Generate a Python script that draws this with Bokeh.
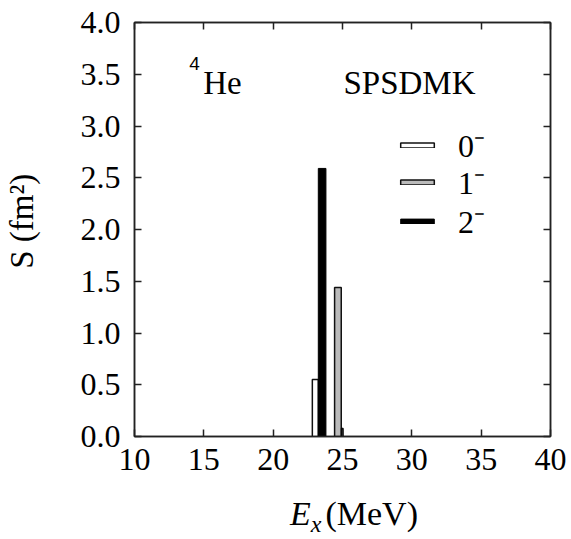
from bokeh.plotting import figure
from bokeh.models import (ColumnDataSource, FixedTicker, PrintfTickFormatter, LinearAxis,
                          Label, Legend, LegendItem, Div)
from bokeh.layouts import column
from bokeh.embed import file_html
from bokeh.resources import INLINE

# ---- data ----
e0 = [23.04]
s0 = [0.55]
w0 = [0.43]

e1 = [24.67]
s1 = [1.44]
w1 = [0.48]

e2 = [23.53, 24.98]
s2 = [2.59, 0.08]
w2 = [0.55, 0.14]

x_ticks = [10, 15, 20, 25, 30, 35, 40]
y_ticks = [0.0, 0.5, 1.0, 1.5, 2.0, 2.5, 3.0, 3.5, 4.0]
legend_labels = ["0\u207b", "1\u207b", "2\u207b"]

FONT = "Liberation Serif"
FS = "32px"

p = figure(width=571, height=490, x_range=(10, 40), y_range=(0, 4),
           output_backend="svg", toolbar_location=None,
           min_border_left=133, min_border_right=21, min_border_top=22, min_border_bottom=54)
p.background_fill_color = "white"
p.border_fill_color = "white"
p.grid.visible = False
p.outline_line_color = "#222222"
p.outline_line_width = 1.5

src0 = ColumnDataSource(dict(x=e0, top=s0, w=w0))
src1 = ColumnDataSource(dict(x=e1, top=s1, w=w1))
src2 = ColumnDataSource(dict(x=e2, top=s2, w=w2))

r0 = p.vbar(x="x", top="top", width="w", bottom=0, source=src0,
            fill_color="white", line_color="#111111", line_width=1.5)
r1 = p.vbar(x="x", top="top", width="w", bottom=0, source=src1,
            fill_color="#bbbbbb", line_color="#111111", line_width=1.5)
r2 = p.vbar(x="x", top="top", width="w", bottom=0, source=src2,
            fill_color="black", line_color="black", line_width=1)

def style_axis(ax, show_labels=True):
    ax.axis_line_color = "#222222"
    ax.axis_line_width = 1.5
    ax.major_tick_in = 7
    ax.major_tick_out = 0
    ax.minor_tick_in = 0
    ax.minor_tick_out = 0
    ax.major_tick_line_color = "#222222"
    ax.major_tick_line_width = 1.5
    ax.major_label_text_font = FONT
    ax.major_label_text_font_size = FS
    ax.major_label_text_color = "black"
    if not show_labels:
        ax.major_label_text_alpha = 0
        ax.major_label_text_font_size = "1px"

xa = p.xaxis[0]
xa.ticker = FixedTicker(ticks=x_ticks)
xa.formatter = PrintfTickFormatter(format="%d")
style_axis(xa)
xa.major_label_standoff = 12

ya = p.yaxis[0]
ya.ticker = FixedTicker(ticks=y_ticks)
ya.formatter = PrintfTickFormatter(format="%.1f")
style_axis(ya)
ya.major_label_standoff = 14
ya.axis_label = "\u00a0\u00a0S (fm\u00b2)"
ya.axis_label_text_font = FONT
ya.axis_label_text_font_size = "33px"
ya.axis_label_text_font_style = "normal"
ya.axis_label_text_color = "black"
ya.axis_label_standoff = 38

top_ax = LinearAxis(ticker=FixedTicker(ticks=x_ticks))
style_axis(top_ax, False)
p.add_layout(top_ax, "above")
right_ax = LinearAxis(ticker=FixedTicker(ticks=y_ticks))
style_axis(right_ax, False)
p.add_layout(right_ax, "right")

# annotations inside the frame
p.add_layout(Label(x=14.95, y=3.42, text="He", text_font=FONT, text_font_size="33px",
                   text_color="black", text_baseline="alphabetic"))
p.add_layout(Label(x=13.95, y=3.60, text="4", text_font="Liberation Sans", text_font_size="19px",
                   text_color="black", text_baseline="alphabetic"))
p.add_layout(Label(x=25.07, y=3.42, text="SPSDMK", text_font=FONT, text_font_size="33px",
                   text_color="black", text_baseline="alphabetic"))

# one legend per entry so the row spacing can follow the reference
for lab, rend, ybot in zip(legend_labels, [r0, r1, r2], [270, 233, 194]):
    lg = Legend(items=[LegendItem(label=lab, renderers=[rend])], location=(262, ybot))
    lg.glyph_width = 42
    lg.glyph_height = 6
    lg.label_standoff = 20
    lg.label_text_font = FONT
    lg.label_text_font_size = FS
    lg.label_text_color = "black"
    lg.label_height = 30
    lg.spacing = 0
    lg.padding = 0
    lg.margin = 0
    lg.border_line_alpha = 0
    lg.background_fill_alpha = 0
    p.add_layout(lg, "center")

xlabel = Div(
    text=("<span style=\"font-family:'Liberation Serif'; font-size:34px; color:black; "
          "white-space:nowrap;\"><i>E</i><sub style=\"font-size:24px; vertical-align:-7px;\">"
          "<i>x</i></sub><span style=\"margin-left:4px;\">(MeV)</span></span>"),
    width=571, height=49,
    styles={"margin-left": "290px", "line-height": "48px", "margin-top": "0px"})

layout = column(p, xlabel, spacing=0)
open("out.html", "w").write(file_html(layout, INLINE))
